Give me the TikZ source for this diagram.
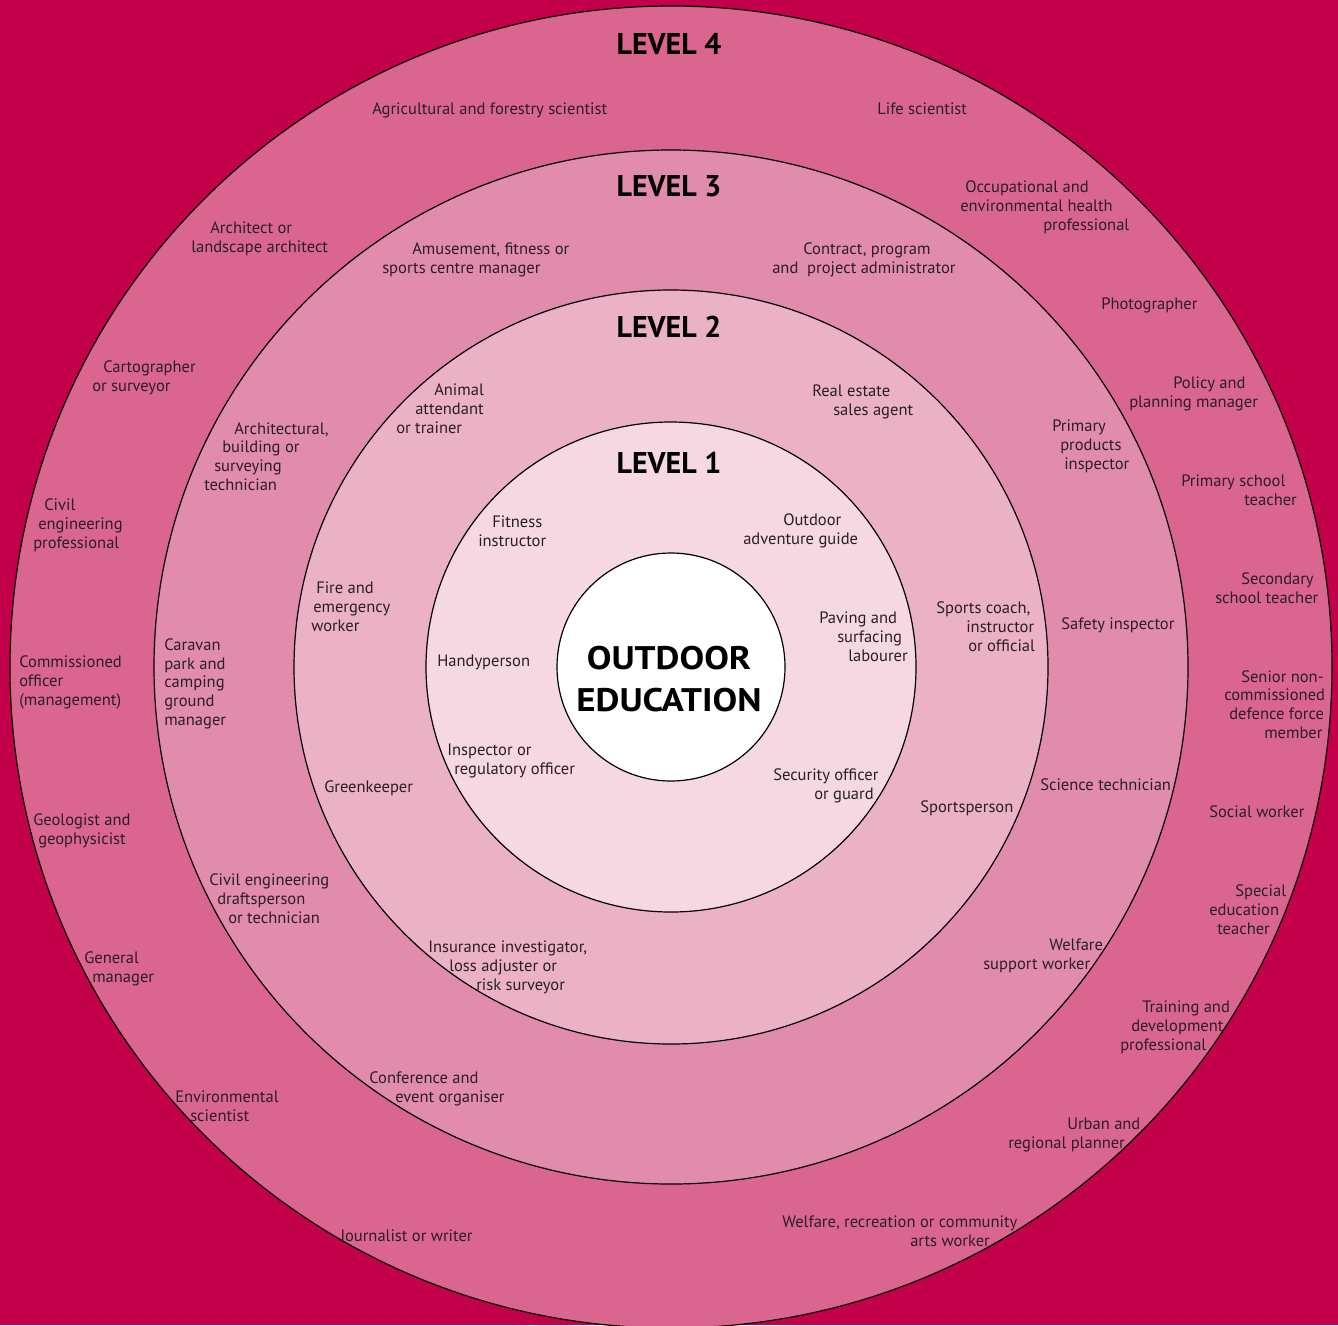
\documentclass[tikz,border=0pt]{standalone}
\usepackage{fontspec}
\setmainfont{PT Sans}
\newfontfamily\centrefont[FakeStretch=1.13]{PT Sans}
\definecolor{bgred}{HTML}{C3004A}
\definecolor{ringfour}{HTML}{DA6690}
\definecolor{ringthree}{HTML}{E28CAD}
\definecolor{ringtwo}{HTML}{EBB2C6}
\definecolor{ringone}{HTML}{F5D8E2}
\definecolor{jobtext}{HTML}{2A1E24}
\newdimen\pxu \pxu=0.75pt
\newcommand\indt[1]{\hspace*{#1\pxu}}
\tikzset{
  ring/.style={draw=black, line width=0.9pt},
  job/.style={anchor=base west, align=left, inner sep=0pt, text=jobtext, yshift=-0.75pt,
    font=\fontsize{12.4}{13.95}\selectfont},
  levelname/.style={inner sep=0pt, font=\fontsize{22.5}{26}\bfseries\selectfont}
}
\begin{document}
\begin{tikzpicture}[x=0.75pt, y=-0.75pt]
    % latar belakang
    \fill[bgred] (0,0) rectangle (1338,1325);
    \useasboundingbox (0,0) rectangle (1338,1325);
    \coordinate (O) at (671,667);

    % lingkaran tingkat
    \draw[ring, fill=ringfour]  (O) circle[radius=661];
    \draw[ring, fill=ringthree] (O) circle[radius=517];
    \draw[ring, fill=ringtwo]   (O) circle[radius=377];
    \draw[ring, fill=ringone]   (O) circle[radius=245];
    \draw[ring, fill=white]     (O) circle[radius=114];

    % judul
    \node[levelname] (lv4) at (669,44) {LEVEL 4};
    \node[levelname] (lv3) at (669,186) {LEVEL 3};
    \node[levelname] (lv2) at (669,327) {LEVEL 2};
    \node[levelname] (lv1) at (669,463) {LEVEL 1};
    \node[align=center, inner sep=0pt, font=\centrefont\fontsize{24.5}{31.5}\bfseries\selectfont]
      (pusat) at (669,679) {OUTDOOR\\EDUCATION};

    % tingkat 4 (y = garis dasar baris terakhir)
    \node[job] (agri) at (372,113) {Agricultural and forestry scientist};
    \node[job] (life) at (877,113) {Life scientist};
    \node[job] (occu) at (960,229) {\indt{5}Occupational and\\environmental health\\\indt{83}professional};
    \node[job] (photo) at (1101,308) {Photographer};
    \node[job] (policy) at (1129,406) {\indt{44}Policy and\\planning manager};
    \node[job] (prims) at (1181,504) {Primary school\\\indt{63}teacher};
    \node[job] (secs) at (1215,602) {\indt{26}Secondary\\school teacher};
    \node[job] (senior) at (1224,737) {\indt{17}Senior non-\\commissioned\\\indt{5}defence force\\\indt{40}member};
    \node[job] (social) at (1209,816) {Social worker};
    \node[job] (special) at (1209,933) {\indt{26}Special\\education\\\indt{8}teacher};
    \node[job] (train) at (1120,1049) {\indt{22}Training and\\\indt{11}development\\professional};
    \node[job] (urban) at (1008,1147) {\indt{59}Urban and\\regional planner};
    \node[job] (welrec) at (782,1245) {Welfare, recreation or community\\\indt{128}arts worker};
    \node[job] (journ) at (340,1240) {Journalist or writer};
    \node[job] (envsci) at (175,1120) {Environmental\\\indt{15}scientist};
    \node[job] (genman) at (84,981) {General\\\indt{8}manager};
    \node[job] (geo) at (33,843) {Geologist and\\\indt{5}geophysicist};
    \node[job] (commis) at (19,704) {Commissioned\\officer\\(management)};
    \node[job] (civil) at (33,547) {\indt{11}Civil\\\indt{5}engineering\\professional};
    \node[job] (carto) at (92,390) {\indt{11}Cartographer\\or surveyor};
    \node[job] (archi) at (191,251) {\indt{19}Architect or\\landscape architect};

    % tingkat 3
    \node[job] (amuse) at (382,272) {\indt{30}Amusement, fitness or\\sports centre manager};
    \node[job] (contract) at (772,272) {\indt{31}Contract, program\\and\ \ project administrator};
    \node[job] (primprod) at (1052,468) {Primary\\\indt{8}products\\\indt{12}inspector};
    \node[job] (safety) at (1061,628) {Safety inspector};
    \node[job] (scitech) at (1040,789) {Science technician};
    \node[job] (welsup) at (983,968) {\indt{66}Welfare\\support worker};
    \node[job] (confer) at (369,1101) {Conference and\\\indt{26}event organiser};
    \node[job] (civdraft) at (209,922) {Civil engineering\\\indt{8}draftsperson\\\indt{19}or technician};
    \node[job] (caravan) at (164,724) {Caravan\\park and\\camping\\ground\\manager};
    \node[job] (archtech) at (204,489) {\indt{30}Architectural,\\\indt{18}building or\\\indt{10}surveying\\technician};

    % tingkat 2
    \node[job] (animal) at (396,432) {\indt{38}Animal\\\indt{19}attendant\\or trainer};
    \node[job] (estate) at (812,414) {Real estate\\\indt{21}sales agent};
    \node[job] (coach) at (936,650) {Sports coach,\\\indt{30}instructor\\\indt{32}or official};
    \node[job] (sport) at (920,811) {Sportsperson};
    \node[job] (insur) at (428,989) {Insurance investigator,\\\indt{21}loss adjuster or\\\indt{48}risk surveyor};
    \node[job] (green) at (324,791) {Greenkeeper};
    \node[job] (fire) at (311,630) {\indt{5}Fire and\\\indt{2}emergency\\worker};

    % tingkat 1
    \node[job] (fitness) at (478,545) {\indt{14}Fitness\\instructor};
    \node[job] (outdoor) at (743,543) {\indt{40}Outdoor\\adventure guide};
    \node[job] (paving) at (819,660) {Paving and\\\indt{18}surfacing\\\indt{29}labourer};
    \node[job] (handy) at (437,665) {Handyperson};
    \node[job] (inspect) at (447,773) {Inspector or\\\indt{7}regulatory officer};
    \node[job] (secur) at (773,798) {Security officer\\\indt{41}or guard};
\end{tikzpicture}
\end{document}
